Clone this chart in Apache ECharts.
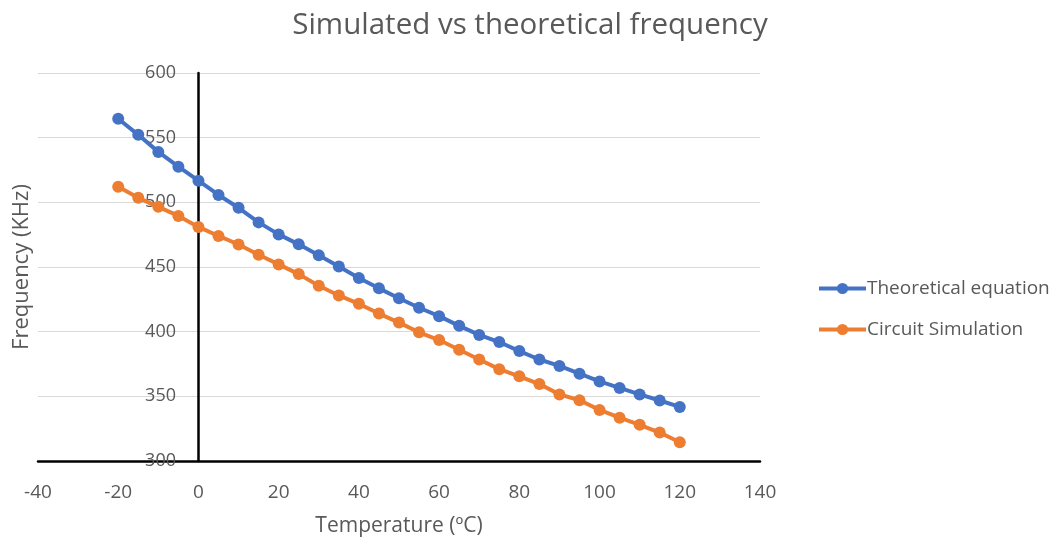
<!DOCTYPE html>
<html>
<head>
<meta charset="utf-8">
<script src="https://cdn.jsdelivr.net/npm/echarts@6/dist/echarts.min.js"></script>
<style>html,body{margin:0;padding:0;background:#fff}#c{width:1058px;height:545px}</style>
</head>
<body>
<div id="c"></div>
<script>
const temperatures = [-20,-15,-10,-5,0,5,10,15,20,25,30,35,40,45,50,55,60,65,70,75,80,85,90,95,100,105,110,115,120];
const theoretical = [564.6,552.2,539,527.6,516.7,505.7,495.8,484.5,475.2,467.5,459,450.3,441.5,433.5,425.8,418.5,412,404.5,397.5,392,385,378.5,373.5,367.5,361.5,356.5,351.5,346.8,341.8];
const simulation = [512,503.5,496.5,489.5,481,474,467.4,459.5,452,444.5,435.5,428,421.5,414,407,399.5,393.5,386,378.5,371,365.5,359.5,351.5,347,339.5,333.5,328,322,314.5];
const seriesNames = ['Theoretical equation','Circuit Simulation'];

const font = 'Open Sans';
const gray = '#595959';
const chart = echarts.init(document.getElementById('c'));
chart.setOption({
  animation: false,
  title: {
    text: 'Simulated vs theoretical frequency',
    left: 525, top: 6, textAlign: 'center',
    textStyle: {fontFamily: font, fontSize: 29.5, fontWeight: 'normal', color: gray}
  },
  legend: {
    orient: 'vertical', left: 812, top: 274,
    itemWidth: 47, itemHeight: 14, itemGap: 22,
    lineStyle: {width: 4},
    textStyle: {fontFamily: font, fontSize: 19, color: gray, padding: [0,0,0,-4]},
    data: seriesNames
  },
  grid: {left: 38, right: 298, top: 73, bottom: 84, containLabel: false, outerBoundsMode: 'none'},
  xAxis: {
    type: 'value', min: -40, max: 140, interval: 20,
    name: 'Temperature (ºC)', nameLocation: 'middle', nameGap: 55,
    nameTextStyle: {fontFamily: font, fontSize: 21, color: gray},
    axisLine: {onZero: false, lineStyle: {color: '#000', width: 2.5}},
    axisTick: {show: false},
    splitLine: {show: false},
    axisLabel: {fontFamily: font, fontSize: 19, color: gray, margin: 22}
  },
  yAxis: {
    type: 'value', min: 300, max: 600, interval: 50,
    offset: -160,
    name: 'Frequency (KHz)', nameLocation: 'middle', nameGap: 165,
    nameTextStyle: {fontFamily: font, fontSize: 22, color: gray},
    axisLine: {show: true, onZero: false, lineStyle: {color: '#000', width: 2.5}},
    axisTick: {show: false},
    splitLine: {lineStyle: {color: '#d9d9d9', width: 1}},
    axisLabel: {fontFamily: font, fontSize: 18, color: gray, margin: 22}
  },
  series: [
    {
      name: seriesNames[0], type: 'line',
      data: temperatures.map((t, i) => [t, theoretical[i]]),
      symbol: 'circle', symbolSize: 12,
      lineStyle: {color: '#4472C4', width: 4},
      itemStyle: {color: '#4472C4'}
    },
    {
      name: seriesNames[1], type: 'line',
      data: temperatures.map((t, i) => [t, simulation[i]]),
      symbol: 'circle', symbolSize: 12,
      lineStyle: {color: '#ED7D31', width: 4},
      itemStyle: {color: '#ED7D31'}
    }
  ]
});
</script>
</body>
</html>
